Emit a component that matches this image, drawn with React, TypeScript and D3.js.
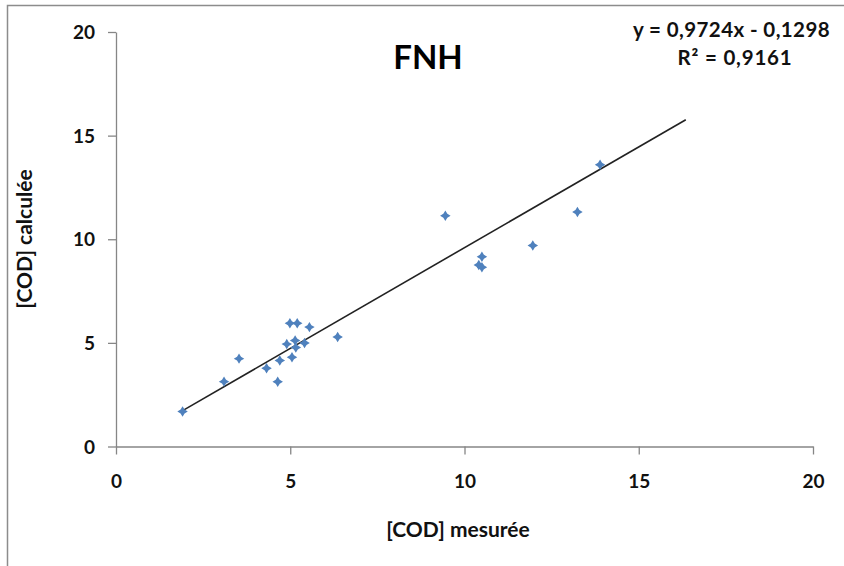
import { useEffect, useRef } from 'react';
import * as d3 from 'd3';

// [COD] mesurée / [COD] calculée
const mesuree = [1.91, 3.10, 3.53, 4.32, 4.64, 4.70, 4.90, 5.05, 4.99, 5.20, 5.14, 5.16, 5.41, 5.55, 6.36, 9.45, 10.50, 10.41, 10.50, 11.96, 13.24, 13.89];
const calculee = [1.69, 3.13, 4.24, 3.78, 3.12, 4.15, 4.94, 4.31, 5.95, 5.95, 5.11, 4.78, 4.99, 5.76, 5.28, 11.13, 9.16, 8.76, 8.65, 9.70, 11.32, 13.60];
const xTicks = [0, 5, 10, 15, 20];
const yTicks = [0, 5, 10, 15, 20];
const slope = 0.9724;
const intercept = -0.1298;
const trendRange = [1.9, 16.35];

const FONT = 'Lato, "Open Sans", sans-serif';

// 4-point star marker like Excel's
const star4 = {
    draw(ctx: d3.Path, size: number) {
        const r = Math.sqrt(size) / 2;
        const w = r * 0.38;
        ctx.moveTo(0, -r);
        ctx.lineTo(w, -w);
        ctx.lineTo(r, 0);
        ctx.lineTo(w, w);
        ctx.lineTo(0, r);
        ctx.lineTo(-w, w);
        ctx.lineTo(-r, 0);
        ctx.lineTo(-w, -w);
        ctx.closePath();
    }
};

const App = () => {
    const ref = useRef<SVGSVGElement>(null);

    useEffect(() => {
        document.body.style.margin = '0';
        const width = 844;
        const height = 566;
        const svg = d3.select(ref.current);
        svg.selectAll('*').remove();

        const x = d3.scaleLinear().domain([0, 20]).range([116, 813]);
        const y = d3.scaleLinear().domain([0, 20]).range([446.5, 32]);

        // chart area border (runs off the right/bottom of the picture)
        svg.append('rect')
            .attr('x', 7.5).attr('y', 5.5)
            .attr('width', width + 20).attr('height', height + 20)
            .attr('fill', '#fff')
            .attr('stroke', '#8c8c8c')
            .attr('stroke-width', 1.5);

        const gx = svg.append('g')
            .attr('transform', `translate(0,${y(0)})`)
            .call(d3.axisBottom(x).tickValues(xTicks).tickSize(8).tickSizeOuter(0).tickPadding(20));
        const gy = svg.append('g')
            .attr('transform', `translate(${x(0)},0)`)
            .call(d3.axisLeft(y).tickValues(yTicks).tickSize(8).tickSizeOuter(0).tickPadding(13));

        [gx, gy].forEach(g => {
            g.select('.domain').attr('stroke', '#868686').attr('stroke-width', 1.3);
            g.selectAll('.tick line').attr('stroke', '#868686').attr('stroke-width', 1.3);
            g.selectAll('.tick text')
                .attr('font-family', FONT)
                .attr('font-weight', 'bold')
                .attr('font-size', 19)
                .attr('fill', '#111');
        });
        gx.selectAll('.tick text').attr('dy', '0.71em');
        gy.selectAll('.tick text').attr('dy', '0.35em');

        // trend line
        const line = d3.line<number>()
            .x(d => x(d))
            .y(d => y(slope * d + intercept));
        svg.append('path')
            .datum(trendRange)
            .attr('d', line)
            .attr('fill', 'none')
            .attr('stroke', '#222')
            .attr('stroke-width', 1.6);

        // points
        svg.append('g')
            .selectAll('path')
            .data(mesuree.map((m, i) => [m, calculee[i]]))
            .join('path')
            .attr('transform', d => `translate(${x(d[0])},${y(d[1])})`)
            .attr('d', d3.symbol().type(star4).size(110))
            .attr('fill', '#4f81bd');

        // title
        svg.append('text')
            .attr('x', 428).attr('y', 69)
            .attr('text-anchor', 'middle')
            .attr('font-family', FONT)
            .attr('font-weight', 'bold')
            .attr('font-size', 33)
            .attr('fill', '#000')
            .text('FNH');

        // equation
        const txt = (sel: d3.Selection<SVGTextElement, unknown, null, undefined>, size: number) =>
            sel.attr('font-family', FONT)
                .attr('font-weight', 'bold')
                .attr('font-size', size)
                .attr('fill', '#111');
        txt(svg.append('text')
            .attr('x', 830).attr('y', 37)
            .attr('text-anchor', 'end')
            .attr('letter-spacing', 0.4), 20.5)
            .text(`y = ${String(slope).replace('.', ',')}x - ${String(-intercept).replace('.', ',')}`);
        txt(svg.append('text')
            .attr('x', 735).attr('y', 65)
            .attr('text-anchor', 'middle')
            .attr('letter-spacing', 0.8), 20.5)
            .text('R² = 0,9161');

        // axis titles
        txt(svg.append('text')
            .attr('x', 458).attr('y', 537)
            .attr('text-anchor', 'middle'), 21)
            .text('[COD] mesurée');
        txt(svg.append('text')
            .attr('transform', 'translate(32,239) rotate(-90)')
            .attr('text-anchor', 'middle'), 21)
            .text('[COD] calculée');
    }, []);

    return <svg ref={ref} width={844} height={566} style={{ display: 'block' }} />;
};

export default App;
